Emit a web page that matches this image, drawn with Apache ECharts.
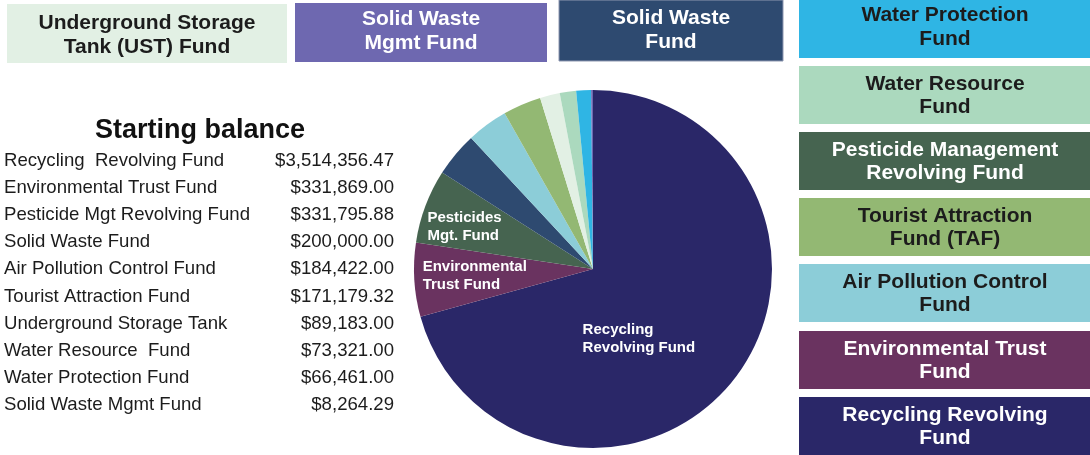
<!DOCTYPE html>
<html>
<head>
<meta charset="utf-8">
<script src="https://cdn.jsdelivr.net/npm/echarts@6/dist/echarts.min.js"></script>
<style>
  html, body { margin: 0; padding: 0; background: #fff; }
  #chart { width: 1090px; height: 455px; }
</style>
</head>
<body>
<div id="chart"></div>
<script>
// table names and starting balances (pie order)
const fundNames = [
  "Recycling  Revolving Fund",
  "Environmental Trust Fund",
  "Pesticide Mgt Revolving Fund",
  "Solid Waste Fund",
  "Air Pollution Control Fund",
  "Tourist Attraction Fund",
  "Underground Storage Tank",
  "Water Resource  Fund",
  "Water Protection Fund",
  "Solid Waste Mgmt Fund"
];
const balances = [3514356.47, 331869.00, 331795.88, 200000.00, 184422.00, 171179.32, 89183.00, 73321.00, 66461.00, 8264.29];
const fundColors = ["#2a2768", "#6a3360", "#466450", "#2e4a70", "#8ccdd8", "#93b873", "#e2f0e4", "#abd9be", "#2fb5e4", "#6e68b0"];
const darkText = [true, true, true, true, false, false, false, false, false, true];

// labels shown inside the pie
const pieLabels = ["Recycling\nRevolving Fund", "Environmental\nTrust Fund", "Pesticides\nMgt. Fund"];

// legend-like boxes: label + fund index
const topBoxLabels = ["Underground Storage\nTank (UST) Fund", "Solid Waste\nMgmt Fund", "Solid Waste\nFund"];
const topBoxFund = [6, 9, 3];
const sideBoxLabels = [
  "Water Protection\nFund",
  "Water Resource\nFund",
  "Pesticide Management\nRevolving Fund",
  "Tourist Attraction\nFund (TAF)",
  "Air Pollution Control\nFund",
  "Environmental Trust\nFund",
  "Recycling Revolving\nFund"
];
const sideBoxFund = [8, 7, 2, 5, 4, 1, 0];

const FONT = '"Liberation Sans", Arial, sans-serif';
const money = v => "$" + v.toLocaleString("en-US", { minimumFractionDigits: 2, maximumFractionDigits: 2 });

const graphics = [];

function box(x, y, w, h, label, fi, border, ty) {
  graphics.push({
    type: "rect", silent: true,
    shape: { x: x, y: y, width: w, height: h },
    style: { fill: fundColors[fi], stroke: border || null, lineWidth: border ? 1 : 0 }
  });
  graphics.push({
    type: "text", silent: true,
    style: {
      x: x + w / 2, y: ty, text: label,
      align: "center", verticalAlign: "middle",
      font: "bold 21px " + FONT, lineHeight: 23.5,
      fill: darkText[fi] ? "#ffffff" : "#1c1c1c"
    }
  });
}

const topBoxes = [[7, 4, 280, 59], [295, 3, 252, 59], [559, 0, 224, 61]];
const topTextY = [35, 31, 30];
topBoxes.forEach((b, i) => box(b[0], b[1], b[2], b[3], topBoxLabels[i], topBoxFund[i], i === 2 ? "#8e97b0" : null, topTextY[i]));

const sideTops = [-1, 66, 132, 198, 264, 331, 397];
sideTops.forEach((t, i) => box(799, t, 292, i === 6 ? 60 : 58 + (i === 0 ? 1 : 0),
  sideBoxLabels[i], sideBoxFund[i], null, i === 0 ? 27 : t + 29.5));

// starting balance table
graphics.push({
  type: "text", silent: true,
  style: { x: 200, y: 131, text: "Starting balance", align: "center", verticalAlign: "middle",
           font: "bold 27px " + FONT, fill: "#111" }
});
fundNames.forEach((n, i) => {
  const y = 160.5 + i * 27.2;
  graphics.push({ type: "text", silent: true,
    style: { x: 4, y: y, text: n, align: "left", verticalAlign: "middle", font: "18.6px " + FONT, fill: "#1c1c1c" } });
  graphics.push({ type: "text", silent: true,
    style: { x: 394, y: y, text: money(balances[i]), align: "right", verticalAlign: "middle", font: "18.6px " + FONT, fill: "#1c1c1c" } });
});

const labelShift = [[-84, 14], [-78, 1], [-79, -10]];

const chart = echarts.init(document.getElementById("chart"));
chart.setOption({
  animation: false,
  backgroundColor: "#ffffff",
  graphic: graphics,
  series: [{
    type: "pie",
    center: [593, 269],
    radius: 179,
    startAngle: 90,
    clockwise: true,
    silent: true,
    avoidLabelOverlap: false,
    itemStyle: { borderWidth: 0 },
    label: { show: false },
    labelLine: { show: false },
    labelLayout: p => {
      const s = labelShift[p.dataIndex];
      return s ? { dx: s[0], dy: s[1], align: "left" } : {};
    },
    data: balances.map((v, i) => ({
      name: fundNames[i],
      value: v,
      itemStyle: { color: fundColors[i] },
      label: i < pieLabels.length ? {
        show: true, position: "inside", formatter: pieLabels[i],
        color: "#ffffff", fontFamily: FONT, fontWeight: "bold", fontSize: 15, lineHeight: 18
      } : { show: false }
    }))
  }]
});
</script>
</body>
</html>
